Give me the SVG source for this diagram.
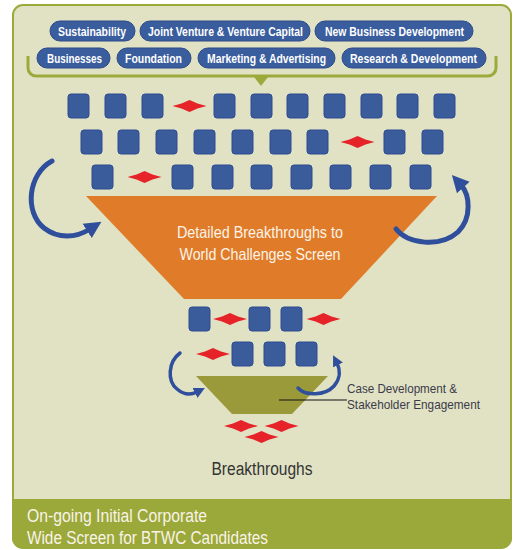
<svg xmlns="http://www.w3.org/2000/svg" width="517" height="550" viewBox="0 0 517 550">
<style>
.pill{fill:#3a5d9e;stroke:#2c4a8a;stroke-width:1}
.ptxt{font-family:"Liberation Sans",Arial,sans-serif;font-size:13px;font-weight:bold;fill:#ffffff}
.sq{fill:#3a5c9a;stroke:#2e4a93;stroke-width:1}
.dm{fill:#e52329}
.arc{fill:none;stroke:#2f4f9c;stroke-width:5;stroke-linecap:round}
.arcs{fill:none;stroke:#2f4f9c;stroke-width:3.5;stroke-linecap:round}
.wt{font-family:"Liberation Sans",Arial,sans-serif;fill:#fbf3e8}
.dk{font-family:"Liberation Sans",Arial,sans-serif}
</style>
<defs>
<rect id="s" class="sq" x="0" y="0" width="21" height="24" rx="3"/>
<path id="d" class="dm" d="M-17,0 L-8,-2.6 L0,-6 L8,-2.6 L17,0 L8,2.6 L0,6 L-8,2.6Z"/>
<marker id="ah" viewBox="0 0 10 10" refX="2" refY="5" markerWidth="17" markerHeight="19" markerUnits="userSpaceOnUse" orient="auto">
<path d="M0,0 L10,5 L0,10z" fill="#2f4f9c"/>
</marker>
<marker id="ahs" viewBox="0 0 10 10" refX="2" refY="5" markerWidth="11" markerHeight="12" markerUnits="userSpaceOnUse" orient="auto">
<path d="M0,0 L10,5 L0,10z" fill="#2f4f9c"/>
</marker>
</defs>

<g id="frame">
<rect x="13" y="5" width="498" height="543" rx="10" fill="#e1e2c4" stroke="#9aab3b" stroke-width="2"/>
<path d="M12,499 H512 V538 A10,10 0 0 1 502,548 H22 A10,10 0 0 1 12,538Z" fill="#9aa93a"/>
<text class="wt" x="27" y="522" font-size="17.5" textLength="180" lengthAdjust="spacingAndGlyphs">On-going Initial Corporate</text>
<text class="wt" x="27" y="544" font-size="17.5" textLength="241" lengthAdjust="spacingAndGlyphs">Wide Screen for BTWC Candidates</text>
</g>

<g id="categories">
<g id="p-sustainability"><rect class="pill" x="50" y="21" width="85" height="20" rx="10"/><text class="ptxt" x="58" y="35.5" textLength="68" lengthAdjust="spacingAndGlyphs">Sustainability</text></g>
<g id="p-jv"><rect class="pill" x="140" y="21" width="170" height="20" rx="10"/><text class="ptxt" x="148" y="35.5" textLength="155" lengthAdjust="spacingAndGlyphs">Joint Venture &amp; Venture Capital</text></g>
<g id="p-nbd"><rect class="pill" x="315" y="21" width="158" height="20" rx="10"/><text class="ptxt" x="325" y="35.5" textLength="139" lengthAdjust="spacingAndGlyphs">New Business Development</text></g>
<g id="p-businesses"><rect class="pill" x="37" y="48" width="73" height="20" rx="10"/><text class="ptxt" x="47" y="62.5" textLength="55" lengthAdjust="spacingAndGlyphs">Businesses</text></g>
<g id="p-foundation"><rect class="pill" x="117" y="48" width="74" height="20" rx="10"/><text class="ptxt" x="125" y="62.5" textLength="57" lengthAdjust="spacingAndGlyphs">Foundation</text></g>
<g id="p-marketing"><rect class="pill" x="198" y="48" width="137" height="20" rx="10"/><text class="ptxt" x="207" y="62.5" textLength="119" lengthAdjust="spacingAndGlyphs">Marketing &amp; Advertising</text></g>
<g id="p-rd"><rect class="pill" x="342" y="48" width="144" height="20" rx="10"/><text class="ptxt" x="350" y="62.5" textLength="127" lengthAdjust="spacingAndGlyphs">Research &amp; Development</text></g>
</g>

<g id="bracket">
<path d="M28,56 V68 A8,8 0 0 0 36,76 H488 A8,8 0 0 0 496,68 V56" fill="none" stroke="#9aab3b" stroke-width="3"/>
<path d="M254,77 L268,77 L261,86Z" fill="#9aab3b"/>
</g>

<g id="candidates">
<use href="#s" x="68" y="94"/><use href="#s" x="105" y="94"/><use href="#s" x="142" y="94"/>
<use href="#d" x="189.5" y="106"/>
<use href="#s" x="214" y="94"/><use href="#s" x="251" y="94"/><use href="#s" x="287" y="94"/><use href="#s" x="324" y="94"/><use href="#s" x="361" y="94"/><use href="#s" x="397" y="94"/><use href="#s" x="434" y="94"/>

<use href="#s" x="81" y="130"/><use href="#s" x="118" y="130"/><use href="#s" x="156" y="130"/><use href="#s" x="194" y="130"/><use href="#s" x="232" y="130"/><use href="#s" x="270" y="130"/><use href="#s" x="307" y="130"/>
<use href="#d" x="357.5" y="142"/>
<use href="#s" x="384" y="130"/><use href="#s" x="422" y="130"/>

<use href="#s" x="92" y="165"/>
<use href="#d" x="144.5" y="177"/>
<use href="#s" x="172" y="165"/><use href="#s" x="212" y="165"/><use href="#s" x="251" y="165"/><use href="#s" x="291" y="165"/><use href="#s" x="330" y="165"/><use href="#s" x="370" y="165"/><use href="#s" x="410" y="165"/>
</g>

<g id="detailed-screen">
<path d="M86,196 H437 L341,299 H184Z" fill="#e07c29"/>
<text class="wt" x="260" y="238" font-size="16.5" text-anchor="middle" textLength="166" lengthAdjust="spacingAndGlyphs">Detailed Breakthroughs to</text>
<text class="wt" x="260" y="259.5" font-size="16.5" text-anchor="middle" textLength="161" lengthAdjust="spacingAndGlyphs">World Challenges Screen</text>
</g>

<g id="finalists">
<use href="#s" x="189" y="307"/>
<use href="#d" x="230" y="319"/>
<use href="#s" x="249" y="307"/><use href="#s" x="281" y="307"/>
<use href="#d" x="323.5" y="319"/>
<use href="#d" x="213" y="354"/>
<use href="#s" x="232" y="342"/><use href="#s" x="264" y="342"/><use href="#s" x="296" y="342"/>
</g>

<g id="case-development">
<path d="M196,376 H328 L292,414 H232Z" fill="#9b9a3a"/>
<text class="dk" x="347" y="393" font-size="13" fill="#3b3b4a" textLength="110" lengthAdjust="spacingAndGlyphs">Case Development &amp;</text>
<text class="dk" x="347" y="408.5" font-size="13" fill="#3b3b4a" textLength="133" lengthAdjust="spacingAndGlyphs">Stakeholder Engagement</text>
</g>

<g id="breakthroughs">
<use href="#d" x="241" y="426"/><use href="#d" x="281.5" y="426"/><use href="#d" x="261.5" y="437"/>
<text class="dk" x="262" y="475" font-size="18" fill="#333333" text-anchor="middle" textLength="101" lengthAdjust="spacingAndGlyphs">Breakthroughs</text>
</g>

<g id="connectors">
<path class="arc" d="M52,161 C28,174 24,212 44,228 C58,239 76,238 90,229" marker-end="url(#ah)"/>
<path class="arc" d="M396,229 C408,244 440,248 458,232 C472,218 470,195 461,185" marker-end="url(#ah)"/>
<path class="arcs" d="M180,353 C168,362 167,381 177,389 C184,395 191,395 197,392" marker-end="url(#ahs)"/>
<path class="arcs" d="M298,388 C305,396 325,396 334,386 C341,378 340,369 337,363" marker-end="url(#ahs)"/>
<line x1="279" y1="400" x2="347" y2="400" stroke="#111111" stroke-width="1.2"/>
</g>
</svg>
